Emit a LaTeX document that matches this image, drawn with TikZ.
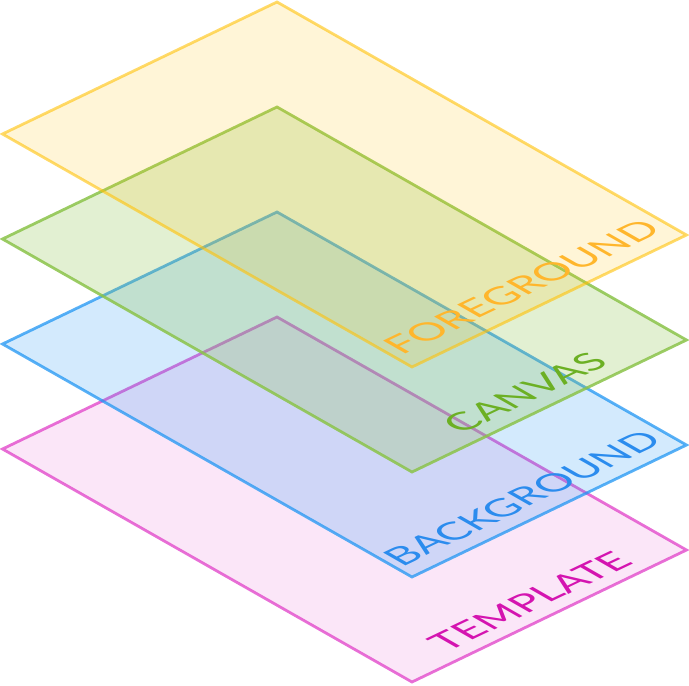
\documentclass[tikz,border=0pt]{standalone}
\usepackage{fontspec}
\newfontfamily\layerfont{Lato}

\definecolor{fgcol}{HTML}{FFC107}
\definecolor{cvcol}{HTML}{8BC34A}
\definecolor{bgcol}{HTML}{2196F3}
\definecolor{tplcol}{HTML}{E040C8}
\definecolor{fgtext}{HTML}{FFB62C}
\definecolor{cvtext}{HTML}{6CB024}
\definecolor{bgtext}{HTML}{2B8CEE}
\definecolor{tpltext}{HTML}{D414B0}

\begin{document}
\begin{tikzpicture}[x=1pt,y=-1pt,
    layer/.style={line width=2.8pt, draw=#1, fill=#1, draw opacity=0.75, fill opacity=0.2},
    layername/.style={inner sep=0pt, text=#1, font=\layerfont\fontsize{10}{12}\selectfont,
      cm={3.757,1.789,-3.125,1.789,(0,0)}}]
  \useasboundingbox (0,0) rectangle (689,686);
  \draw[layer=tplcol, fill opacity=0.13] (277,317) -- (686.5,550) -- (412,682) -- (2.5,449) -- cycle; % template
  \draw[layer=bgcol] (277,212) -- (686.5,445) -- (412,577) -- (2.5,344) -- cycle; % background
  \draw[layer=cvcol, fill opacity=0.25, draw opacity=0.85] (277,107) -- (686.5,340) -- (412,472) -- (2.5,239) -- cycle; % canvas
  \draw[layer=fgcol, draw opacity=0.6, fill opacity=0.16] (277,2) -- (686.5,235) -- (412,367) -- (2.5,134) -- cycle; % foreground
  \node[layername=fgtext] (fglabel) at (521.7,286.7) {FOREGROUND};
  \node[layername=cvtext] (cvlabel) at (525,392.5) {CANVAS};
  \node[layername=bgtext] (bglabel) at (522.5,498.3) {BACKGROUND};
  \node[layername=tpltext] (tpllabel) at (530,601) {TEMPLATE};
\end{tikzpicture}
\end{document}
